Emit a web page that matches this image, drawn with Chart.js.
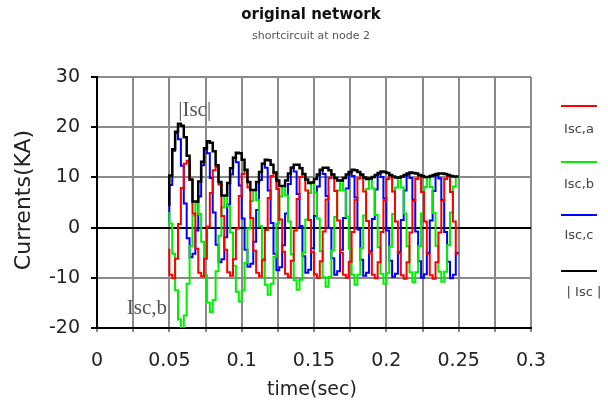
<!DOCTYPE html>
<html>
<head>
<meta charset="utf-8">
<title>original network</title>
<script src="https://cdn.jsdelivr.net/npm/chart.js@4.4.0/dist/chart.umd.min.js"></script>
<style>
  body { margin: 0; background: #fff; }
  #chartDiv { width: 608px; height: 409px; }
</style>
</head>
<body>
<div id="chartDiv"><canvas id="myChart" width="608" height="409"></canvas></div>
<script>
// time axis of the samples (sec)
const tStart = 0.05;
const tStep = 0.002;

// phase currents (kA), one sample every 2 ms from 0.05 s to 0.25 s
const isa = [
  -4.2, -9.4, -10.1, -6.2, 0.7, 7.9, 12.7, 13.3, 9.5, 2.8,
  -4.2, -9.0, -9.7, -6.2, 0.2, 6.9, 11.4, 12.1, 8.6, 2.3,
  -4.4, -8.9, -9.6, -6.3, -0.2, 6.3, 10.7, 11.4, 8.0, 1.9,
  -4.6, -9.0, -9.7, -6.5, -0.5, 5.9, 10.3, 11.0, 7.7, 1.6,
  -4.8, -9.2, -9.9, -6.6, -0.6, 5.7, 10.1, 10.7, 7.4, 1.5,
  -4.9, -9.3, -10.0, -6.7, -0.8, 5.6, 9.9, 10.6, 7.3, 1.4,
  -5.0, -9.4, -10.0, -6.8, -0.9, 5.5, 9.8, 10.5, 7.2, 1.3,
  -5.1, -9.4, -10.1, -6.9, -0.9, 5.4, 9.7, 10.4, 7.2, 1.2,
  -5.1, -9.5, -10.2, -6.9, -1.0, 5.3, 9.7, 10.4, 7.1, 1.2,
  -5.2, -9.5, -10.2, -6.9, -1.0, 5.3, 9.7, 10.3, 7.1, 1.2,
  -5.2
];
const isb = [
  3.1, 0.8, -5.2, -12.5, -18.3, -20.2, -17.5, -11.2, -3.7, 2.4,
  4.8, 2.7, -2.8, -9.5, -14.9, -16.8, -14.4, -8.7, -1.6, 4.0,
  6.3, 4.3, -1.0, -7.6, -12.8, -14.7, -12.5, -7.0, -0.2, 5.3,
  7.4, 5.5, 0.3, -6.2, -11.4, -13.4, -11.2, -5.8, 0.8, 6.2,
  8.3, 6.4, 1.2, -5.3, -10.5, -12.4, -10.4, -5.0, 1.6, 6.9,
  9.0, 7.0, 1.8, -4.7, -9.9, -11.8, -9.8, -4.5, 2.1, 7.4,
  9.4, 7.5, 2.2, -4.2, -9.4, -11.4, -9.4, -4.1, 2.4, 7.7,
  9.8, 7.8, 2.5, -3.9, -9.2, -11.2, -9.1, -3.8, 2.7, 8.0,
  10.0, 8.0, 2.8, -3.7, -8.9, -10.9, -8.9, -3.7, 2.8, 8.1,
  10.1, 8.1, 2.9, -3.6, -8.8, -10.8, -8.8, -3.5, 3.0, 8.2,
  10.2
];
const isc = [
  1.1, 8.5, 15.3, 18.8, 17.6, 12.3, 4.8, -2.1, -5.9, -5.2,
  -0.6, 6.2, 12.4, 15.7, 14.8, 9.9, 3.0, -3.4, -6.9, -6.3,
  -1.9, 4.6, 10.6, 13.9, 13.0, 8.4, 1.8, -4.4, -7.8, -7.2,
  -2.8, 3.5, 9.5, 12.7, 11.9, 7.4, 0.9, -5.2, -8.5, -7.9,
  -3.5, 2.8, 8.7, 11.9, 11.2, 6.7, 0.3, -5.7, -9.0, -8.4,
  -4.1, 2.3, 8.2, 11.4, 10.7, 6.3, -0.1, -6.1, -9.4, -8.7,
  -4.4, 1.9, 7.8, 11.0, 10.3, 6.0, -0.4, -6.4, -9.6, -9.0,
  -4.7, 1.7, 7.6, 10.8, 10.1, 5.8, -0.6, -6.6, -9.8, -9.2,
  -4.8, 1.5, 7.4, 10.6, 9.9, 5.6, -0.8, -6.7, -10.0, -9.3,
  -5.0, 1.4, 7.3, 10.5, 9.8, 5.5, -0.9, -6.8, -10.1, -9.4,
  -5.0
];
// magnitude |Isc|
const isAbs = [
  4.3, 10.4, 15.6, 19.1, 20.7, 20.3, 18.0, 14.3, 9.6, 5.2,
  5.2, 9.2, 13.1, 15.8, 17.2, 16.9, 15.2, 12.4, 9.1, 6.4,
  6.4, 8.9, 11.8, 13.9, 14.9, 14.8, 13.5, 11.5, 9.1, 7.5,
  7.5, 9.1, 11.1, 12.7, 13.5, 13.4, 12.5, 11.0, 9.4, 8.3,
  8.3, 9.4, 10.8, 11.9, 12.5, 12.5, 11.8, 10.7, 9.6, 8.9,
  9.0, 9.7, 10.6, 11.5, 11.9, 11.9, 11.4, 10.6, 9.9, 9.4,
  9.4, 9.9, 10.6, 11.1, 11.5, 11.4, 11.1, 10.6, 10.0, 9.7,
  9.8, 10.1, 10.5, 10.9, 11.2, 11.1, 10.9, 10.5, 10.2, 10.0,
  10.0, 10.2, 10.5, 10.8, 11.0, 10.9, 10.8, 10.5, 10.3, 10.1,
  10.1, 10.3, 10.5, 10.7, 10.8, 10.8, 10.7, 10.5, 10.3, 10.2,
  10.2
];

const seriesNames = ['Isc,a', 'Isc,b', 'Isc,c', '| Isc |'];
const seriesColors = ['#ff0000', '#00ee00', '#0000ff', '#000000'];

// tick labels shown on the axes
const xTickLabels = ['0', '0.05', '0.1', '0.15', '0.2', '0.25', '0.3'];
const yTickLabels = ['-20', '-10', '0', '10', '20', '30'];

const sans = '"DejaVu Sans", "Liberation Sans", Arial, sans-serif';
const serif = '"Liberation Serif", "Times New Roman", serif';

function toPoints(arr) {
  let pts = [];
  for (let i = 0; i < arr.length; i++) {
    pts.push({ x: tStart + i * tStep, y: arr[i] });
  }
  return pts;
}

const allSeries = [isa, isb, isc, isAbs];
let datasets = [];
for (let i = 0; i < allSeries.length; i++) {
  datasets.push({
    label: seriesNames[i],
    data: toPoints(allSeries[i]),
    borderColor: seriesColors[i],
    borderWidth: i == 3 ? 2.5 : 2,
    pointRadius: 0,
    stepped: 'after',
    fill: false,
    order: i == 3 ? 0 : 1
  });
}

// title, axis titles, legend and the two notes
const extraText = {
  id: 'extraText',
  afterDraw(chart) {
    const ctx = chart.ctx;
    const xs = chart.scales.x;
    const ys = chart.scales.y;
    ctx.save();
    ctx.textAlign = 'center';
    ctx.textBaseline = 'middle';

    ctx.fillStyle = '#111';
    ctx.font = 'bold 15px ' + sans;
    ctx.fillText('original network', 311, 15);
    ctx.fillStyle = '#555';
    ctx.font = '11px ' + sans;
    ctx.fillText('shortcircuit at node 2', 311, 36);

    // axis titles
    ctx.fillStyle = '#222';
    ctx.font = '19px ' + sans;
    ctx.fillText('time(sec)', 312, 390);
    ctx.save();
    ctx.translate(24, 200);
    ctx.rotate(-Math.PI / 2);
    ctx.font = '22px ' + sans;
    ctx.fillText('Currents(KA)', 0, 0);
    ctx.restore();

    // legend: line with its label below
    const lineY = [106, 162, 215, 271];
    const textY = [130, 185, 236, 293];
    for (let i = 0; i < seriesNames.length; i++) {
      ctx.strokeStyle = seriesColors[i];
      ctx.lineWidth = 2;
      ctx.beginPath();
      ctx.moveTo(561, lineY[i]);
      ctx.lineTo(597, lineY[i]);
      ctx.stroke();
      ctx.fillStyle = '#444';
      ctx.font = '13px ' + sans;
      ctx.fillText(seriesNames[i], i == 3 ? 584 : 579, textY[i]);
    }

    // notes on the plot
    ctx.fillStyle = '#555';
    ctx.font = '21px ' + serif;
    ctx.fillText('|Isc|', xs.getPixelForValue(0.0675), ys.getPixelForValue(23.4));
    ctx.fillText('Isc,b', xs.getPixelForValue(0.0345), ys.getPixelForValue(-16.1));
    ctx.restore();
  }
};

const ctx = document.getElementById('myChart');

new Chart(ctx, {
  type: 'line',
  data: { datasets: datasets },
  options: {
    responsive: false,
    animation: false,
    devicePixelRatio: 1,
    layout: { padding: { top: 77, right: 77, left: 0, bottom: 0 } },
    plugins: {
      legend: { display: false },
      tooltip: { enabled: false },
      title: { display: false }
    },
    scales: {
      x: {
        type: 'linear',
        min: 0,
        max: 0.3,
        afterFit: function (scale) { scale.height = 81; },
        ticks: {
          stepSize: 0.025,
          autoSkip: false,
          maxRotation: 0,
          padding: 18,
          color: '#222',
          font: { family: sans, size: 19 },
          callback: function (v) {
            const m = Math.round(v * 1000);
            if (m % 50 !== 0) return '';
            return xTickLabels[m / 50];
          }
        },
        grid: {
          color: function (c) { return c.tick && c.tick.value === 0 ? '#000' : '#8a8a8a'; },
          lineWidth: 2,
          tickLength: 4,
          tickColor: '#8a8a8a'
        },
        border: { color: '#000', width: 2 }
      },
      y: {
        min: -20,
        max: 30,
        afterFit: function (scale) { scale.width = 97; },
        ticks: {
          stepSize: 5,
          padding: 11,
          color: '#222',
          font: { family: sans, size: 19 },
          callback: function (v) {
            if (v % 10 !== 0) return '';
            return yTickLabels[(v + 20) / 10];
          }
        },
        grid: {
          color: function (c) {
            if (!c.tick) return '#8a8a8a';
            return (c.tick.value === 0 || c.tick.value === -20) ? '#000' : '#8a8a8a';
          },
          lineWidth: 2,
          tickLength: 6,
          tickColor: '#000'
        },
        border: { color: '#000', width: 2 }
      }
    }
  },
  plugins: [extraText]
});
</script>
</body>
</html>
